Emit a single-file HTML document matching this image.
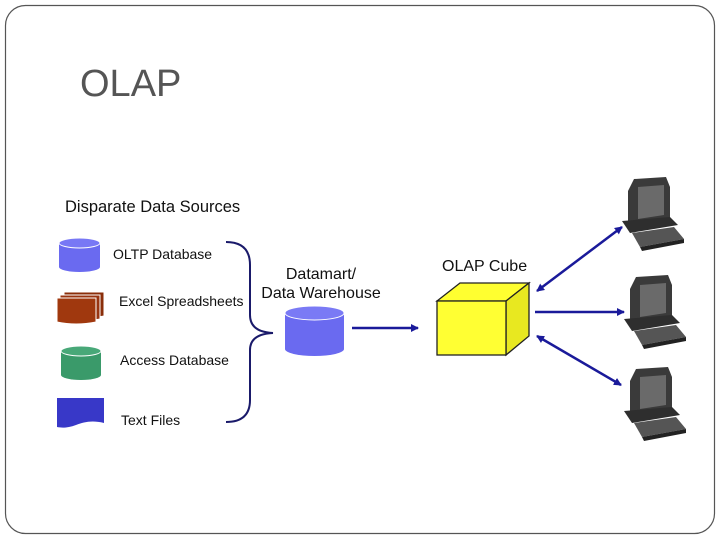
<!DOCTYPE html>
<html><head><meta charset="utf-8"><style>
html,body{margin:0;padding:0;background:#fff}
svg{display:block}
text{font-family:"Liberation Sans",sans-serif}
</style></head><body>
<svg width="720" height="540" viewBox="0 0 720 540" xmlns="http://www.w3.org/2000/svg">
<defs>
<marker id="ah" markerWidth="8" markerHeight="8" refX="7" refY="4" orient="auto-start-reverse" markerUnits="userSpaceOnUse"><path d="M0,0 L8,4 L0,8 z" fill="#1a1a9a"/></marker>
<g id="pc">
<path d="M8,14 L14,2 L46,0 L50,10 L50,42 L14,48 L8,44 z" fill="#3a3a3a"/>
<path d="M18,10 L44,8 L44,38 L18,42 z" fill="#6a6a6a"/>
<path d="M2,44 L50,40 L58,48 L10,56 z" fill="#2e2e2e"/>
<path d="M12,56 L54,50 L64,62 L20,70 z" fill="#555"/>
<path d="M20,70 L64,62 L64,66 L22,74 z" fill="#222"/>
</g>
</defs>
<rect x="5.5" y="5.5" width="709" height="528" rx="20" fill="#fff" stroke="#555" stroke-width="1.2"/>
<text x="80" y="96" font-size="38" fill="#555">OLAP</text>
<text x="65" y="212" font-size="16.5" fill="#111">Disparate Data Sources</text>
<!-- OLTP cylinder -->
<path d="M59,243 L59,267 A20.5,5 0 0 0 100,267 L100,243 z" fill="#6a6af0"/>
<ellipse cx="79.5" cy="243" rx="20.5" ry="5" fill="#7878f5" stroke="#fff" stroke-width="1"/>
<text x="113" y="259" font-size="14" fill="#111">OLTP Database</text>
<!-- Excel -->
<path d="M64,292 L104,292 L104,316 Q84,320 64,316 z" fill="#8a2e0a" stroke="#fff"/>
<path d="M60,295 L100,295 L100,319 Q80,323 60,319 z" fill="#983410" stroke="#fff"/>
<path d="M57,298 L96,298 L96,322 Q76,326 57,322 z" fill="#a0380e" stroke="#fff"/>
<text x="119" y="306" font-size="14" fill="#111">Excel Spreadsheets</text>
<!-- Access -->
<path d="M61,351 L61,375 A20,5 0 0 0 101,375 L101,351 z" fill="#3a9a6a"/>
<ellipse cx="81" cy="351" rx="20" ry="5" fill="#48a878" stroke="#fff"/>
<text x="120" y="365" font-size="14" fill="#111">Access Database</text>
<!-- Text files -->
<path d="M57,398 L104,398 L104,423 C92,420 84,422 76,425 C68,428 62,428 57,427 z" fill="#3838c8"/>
<text x="121" y="425" font-size="14" fill="#111">Text Files</text>
<!-- brace -->
<path d="M226,242 Q250,242 250,265 L250,315 Q250,332 273,333 Q250,334 250,350 L250,400 Q250,422 226,422" fill="none" stroke="#1a1a6a" stroke-width="2"/>
<text x="321" y="279" font-size="16" fill="#111" text-anchor="middle">Datamart/</text>
<text x="321" y="298" font-size="16" fill="#111" text-anchor="middle">Data Warehouse</text>
<!-- DW cylinder -->
<path d="M285,313 L285,349 A29.5,7 0 0 0 344,349 L344,313 z" fill="#6a6af0"/>
<ellipse cx="314.5" cy="313" rx="29.5" ry="7" fill="#7a7af5" stroke="#fff"/>
<line x1="352" y1="328" x2="418" y2="328" stroke="#1a1a9a" stroke-width="2.5" marker-end="url(#ah)"/>
<text x="442" y="271" font-size="16" fill="#111">OLAP Cube</text>
<!-- cube -->
<path d="M437,301 L460,283 L529,283 L506,301 z" fill="#ffff30" stroke="#222" stroke-width="1.3"/>
<path d="M506,301 L529,283 L529,336 L506,355 z" fill="#e8e820" stroke="#222" stroke-width="1.3"/>
<rect x="437" y="301" width="69" height="54" fill="#ffff33" stroke="#222" stroke-width="1.3"/>
<line x1="537" y1="291" x2="622" y2="227" stroke="#1a1a9a" stroke-width="2.5" marker-start="url(#ah)" marker-end="url(#ah)"/>
<line x1="535" y1="312" x2="624" y2="312" stroke="#1a1a9a" stroke-width="2.5" marker-end="url(#ah)"/>
<line x1="537" y1="336" x2="621" y2="385" stroke="#1a1a9a" stroke-width="2.5" marker-start="url(#ah)" marker-end="url(#ah)"/>
<use href="#pc" x="620" y="177"/>
<use href="#pc" x="622" y="275"/>
<use href="#pc" x="622" y="367"/>
</svg>
</body></html>
